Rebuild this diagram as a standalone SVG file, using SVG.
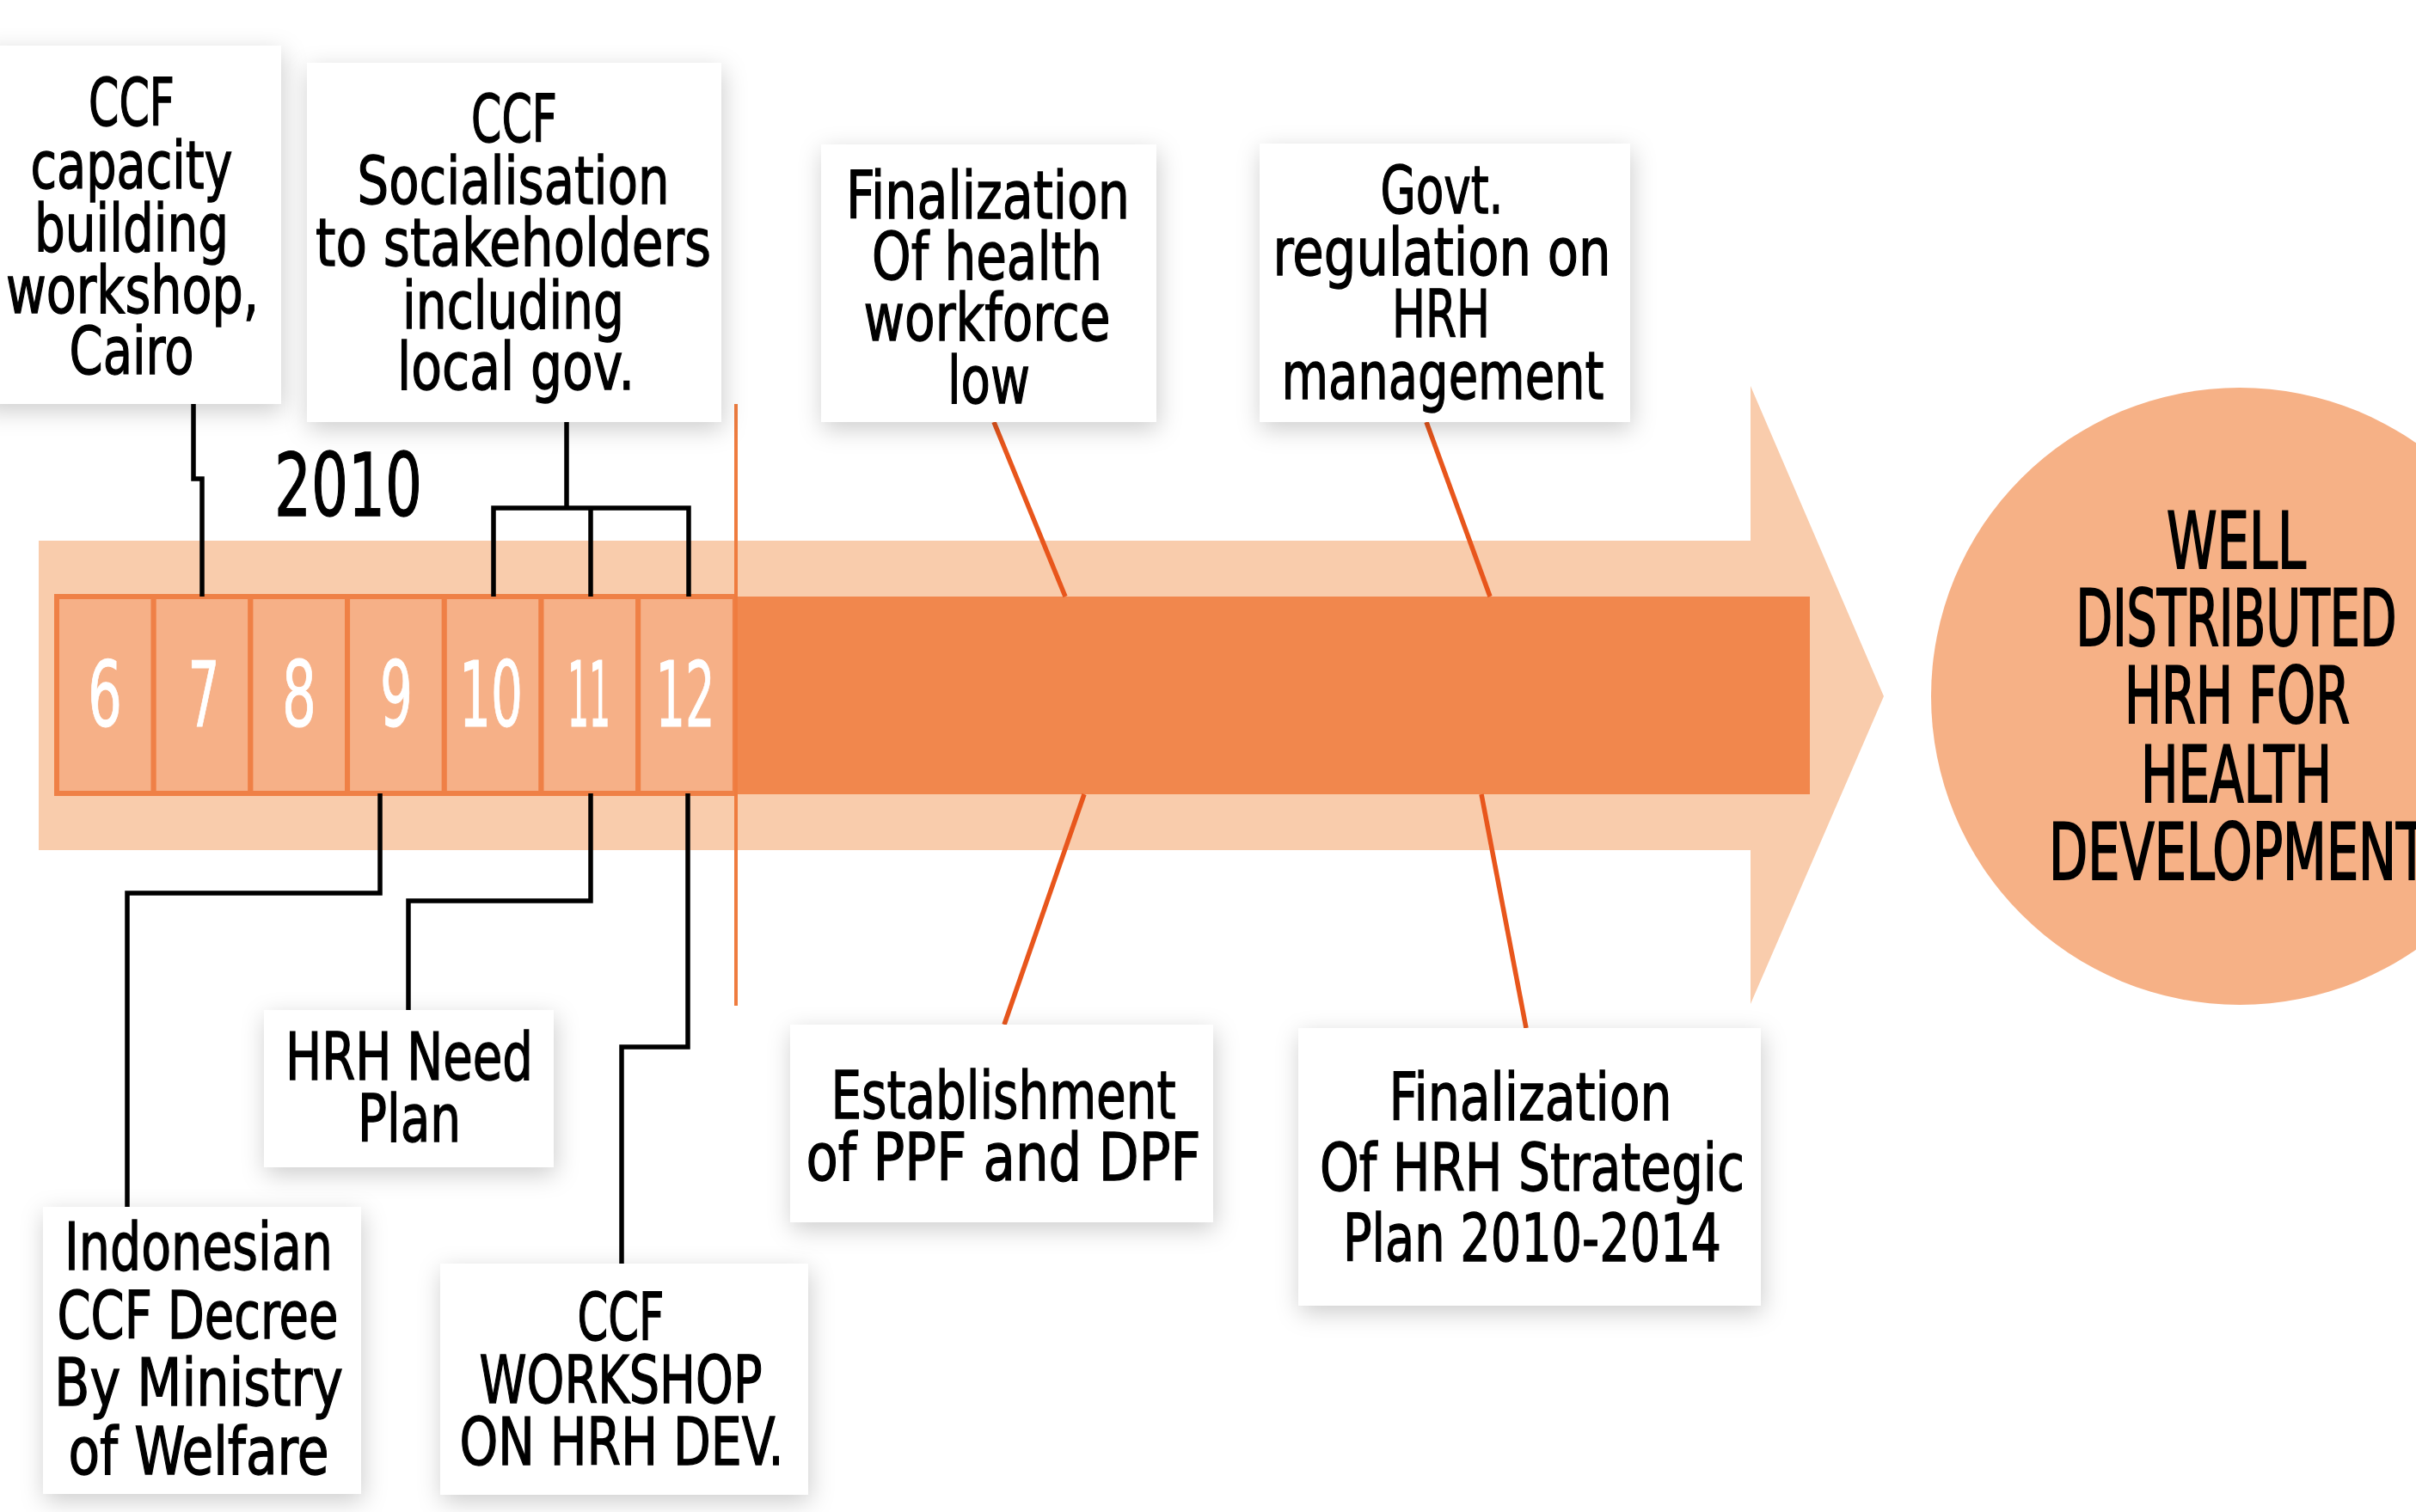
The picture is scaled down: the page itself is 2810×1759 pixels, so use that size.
<svg xmlns="http://www.w3.org/2000/svg" width="2810" height="1759" viewBox="0 0 2810 1759">
<defs>
<filter id="sh" x="-20%" y="-20%" width="140%" height="150%">
<feDropShadow dx="2" dy="8" stdDeviation="14" flood-color="#000" flood-opacity="0.2"/>
</filter>
</defs>
<style>
.box{fill:#fff;filter:url(#sh)}
.t{font-family:"Liberation Sans Narrow","DejaVu Sans Condensed","Liberation Sans",sans-serif;font-size:76px;fill:#000;stroke:#000;stroke-width:1.3;text-anchor:middle}
.d{font-family:"Liberation Sans Narrow","DejaVu Sans Condensed","Liberation Sans",sans-serif;font-size:106px;fill:#fff;stroke:#fff;stroke-width:1;text-anchor:middle}
.c{font-family:"Liberation Sans Narrow","DejaVu Sans Condensed","Liberation Sans",sans-serif;font-size:90px;fill:#000;stroke:#000;stroke-width:2;text-anchor:middle}
.cell{fill:#F6B087;stroke:#EF8046;stroke-width:6}
.k{fill:none;stroke:#000;stroke-width:5.5}
.o{fill:none;stroke:#E8561C;stroke-width:5.5}
</style>
<rect width="2810" height="1759" fill="#fff"/>
<g id="arrow">
<polygon points="45,629 2036,629 2036,449 2191,810 2036,1168 2036,989 45,989" fill="#F9CCAC"/>
<rect x="855" y="694" width="1250" height="230" fill="#F1874D"/>
</g>
<g id="months">
<rect class="cell" x="66" y="694" width="112.7" height="229"/>
<rect class="cell" x="178.7" y="694" width="112.7" height="229"/>
<rect class="cell" x="291.4" y="694" width="112.7" height="229"/>
<rect class="cell" x="404.1" y="694" width="112.7" height="229"/>
<rect class="cell" x="516.8" y="694" width="112.7" height="229"/>
<rect class="cell" x="629.5" y="694" width="112.7" height="229"/>
<rect class="cell" x="742.2" y="694" width="112.7" height="229"/>
<text class="d" x="122" y="845" textLength="40" lengthAdjust="spacingAndGlyphs">6</text>
<text class="d" x="237" y="845" textLength="37" lengthAdjust="spacingAndGlyphs">7</text>
<text class="d" x="348" y="845" textLength="40" lengthAdjust="spacingAndGlyphs">8</text>
<text class="d" x="461" y="845" textLength="38" lengthAdjust="spacingAndGlyphs">9</text>
<text class="d" x="571" y="845" textLength="74" lengthAdjust="spacingAndGlyphs">10</text>
<text class="d" x="685" y="845" textLength="50" lengthAdjust="spacingAndGlyphs">11</text>
<text class="d" x="797" y="845" textLength="69" lengthAdjust="spacingAndGlyphs">12</text>
</g>
<g id="year">
<text class="t" x="405" y="600" style="font-size:101px" textLength="172" lengthAdjust="spacingAndGlyphs">2010</text>
</g>
<g id="connectors">
<line x1="856" y1="470" x2="856" y2="1170" stroke="#EF7C3F" stroke-width="4"/>
<path class="k" d="M225,470 V557 H235 V694"/>
<path class="k" d="M659,491 V591 M574,694 V591 H801 V694 M687,591 V694"/>
<path class="k" d="M442,923 V1039 H148 V1404"/>
<path class="k" d="M687,923 V1048 H475 V1175"/>
<path class="k" d="M800,923 V1218 H723 V1470"/>
<path class="o" d="M1156,491 L1239,694"/>
<path class="o" d="M1659,491 L1733,694"/>
<path class="o" d="M1261,924 L1168,1192"/>
<path class="o" d="M1723,924 L1775,1196"/>
</g>
<g id="n1">
<rect class="box" x="-21" y="53" width="348" height="417"/>
<text class="t" x="153" y="146" textLength="100" lengthAdjust="spacingAndGlyphs">CCF</text>
<text class="t" x="153" y="219" textLength="235" lengthAdjust="spacingAndGlyphs">capacity</text>
<text class="t" x="153" y="292" textLength="226" lengthAdjust="spacingAndGlyphs">building</text>
<text class="t" x="154" y="364" textLength="294" lengthAdjust="spacingAndGlyphs">workshop,</text>
<text class="t" x="153" y="435" textLength="145" lengthAdjust="spacingAndGlyphs">Cairo</text>
</g>
<g id="n2">
<rect class="box" x="357" y="73" width="482" height="418"/>
<text class="t" x="598" y="165" textLength="100" lengthAdjust="spacingAndGlyphs">CCF</text>
<text class="t" x="597" y="237" textLength="363" lengthAdjust="spacingAndGlyphs">Socialisation</text>
<text class="t" x="597" y="309" textLength="460" lengthAdjust="spacingAndGlyphs">to stakeholders</text>
<text class="t" x="597" y="382" textLength="258" lengthAdjust="spacingAndGlyphs">including</text>
<text class="t" x="600" y="453" textLength="276" lengthAdjust="spacingAndGlyphs">local gov.</text>
</g>
<g id="n3">
<rect class="box" x="955" y="168" width="390" height="323"/>
<text class="t" x="1149" y="254" textLength="330" lengthAdjust="spacingAndGlyphs">Finalization</text>
<text class="t" x="1148" y="325" textLength="268" lengthAdjust="spacingAndGlyphs">Of health</text>
<text class="t" x="1148" y="396" textLength="287" lengthAdjust="spacingAndGlyphs">workforce</text>
<text class="t" x="1150" y="469" textLength="96" lengthAdjust="spacingAndGlyphs">low</text>
</g>
<g id="n4">
<rect class="box" x="1465" y="167" width="431" height="324"/>
<text class="t" x="1677" y="248" textLength="143" lengthAdjust="spacingAndGlyphs">Govt.</text>
<text class="t" x="1677" y="320" textLength="393" lengthAdjust="spacingAndGlyphs">regulation on</text>
<text class="t" x="1676" y="392" textLength="114" lengthAdjust="spacingAndGlyphs">HRH</text>
<text class="t" x="1678" y="464" textLength="375" lengthAdjust="spacingAndGlyphs">management</text>
</g>
<g id="n5">
<rect class="box" x="307" y="1175" width="337" height="183"/>
<text class="t" x="476" y="1256" textLength="288" lengthAdjust="spacingAndGlyphs">HRH Need</text>
<text class="t" x="476" y="1328" textLength="120" lengthAdjust="spacingAndGlyphs">Plan</text>
</g>
<g id="n6">
<rect class="box" x="50" y="1404" width="370" height="334"/>
<text class="t" x="231" y="1477" textLength="312" lengthAdjust="spacingAndGlyphs">Indonesian</text>
<text class="t" x="230" y="1557" textLength="327" lengthAdjust="spacingAndGlyphs">CCF Decree</text>
<text class="t" x="231" y="1635" textLength="336" lengthAdjust="spacingAndGlyphs">By Ministry</text>
<text class="t" x="231" y="1715" textLength="303" lengthAdjust="spacingAndGlyphs">of Welfare</text>
</g>
<g id="n7">
<rect class="box" x="512" y="1470" width="428" height="269"/>
<text class="t" x="722" y="1559" textLength="101" lengthAdjust="spacingAndGlyphs">CCF</text>
<text class="t" x="722" y="1632" textLength="329" lengthAdjust="spacingAndGlyphs">WORKSHOP</text>
<text class="t" x="723" y="1704" textLength="377" lengthAdjust="spacingAndGlyphs">ON HRH DEV.</text>
</g>
<g id="n8">
<rect class="box" x="919" y="1192" width="492" height="230"/>
<text class="t" x="1167" y="1301" textLength="401" lengthAdjust="spacingAndGlyphs">Establishment</text>
<text class="t" x="1167" y="1373" textLength="459" lengthAdjust="spacingAndGlyphs">of PPF and DPF</text>
</g>
<g id="n9">
<rect class="box" x="1510" y="1196" width="538" height="323"/>
<text class="t" x="1780" y="1303" textLength="329" lengthAdjust="spacingAndGlyphs">Finalization</text>
<text class="t" x="1782" y="1385" textLength="494" lengthAdjust="spacingAndGlyphs">Of HRH Strategic</text>
<text class="t" x="1782" y="1467" textLength="440" lengthAdjust="spacingAndGlyphs">Plan 2010-2014</text>
</g>
<g id="goal">
<circle cx="2605" cy="810" r="359" fill="#F6B186"/>
<text class="c" x="2601" y="661" textLength="162" lengthAdjust="spacingAndGlyphs">WELL</text>
<text class="c" x="2601" y="751" textLength="373" lengthAdjust="spacingAndGlyphs">DISTRIBUTED</text>
<text class="c" x="2602" y="841" textLength="262" lengthAdjust="spacingAndGlyphs">HRH FOR</text>
<text class="c" x="2601" y="933" textLength="222" lengthAdjust="spacingAndGlyphs">HEALTH</text>
<text class="c" x="2603" y="1023" textLength="440" lengthAdjust="spacingAndGlyphs">DEVELOPMENT</text>
</g>
</svg>
